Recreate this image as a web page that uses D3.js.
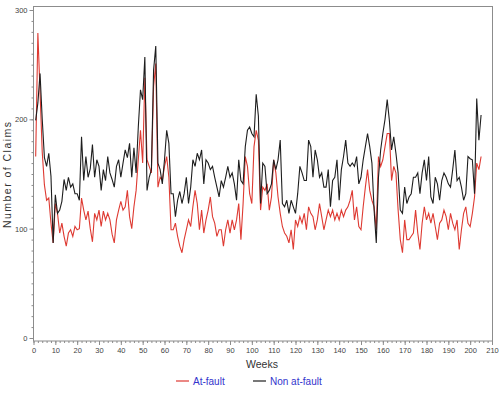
<!DOCTYPE html>
<html>
<head>
<meta charset="utf-8">
<script src="https://cdn.jsdelivr.net/npm/d3@7"></script>
<style>
  body { margin: 0; background: #fff; }
  svg text { font-family: "Liberation Sans", Arial, sans-serif; }
</style>
</head>
<body>
<div id="chart"></div>
<script>
"use strict";

// weekly claim counts, week 1 .. 205
const atFault = [
  166, 279, 225, 170, 140, 126, 128, 105, 87,
  123, 114, 96, 105, 93, 84, 96, 99, 93, 102, 99, 100, 128, 117, 108, 116, 100, 88, 114, 108, 117,
  102, 116, 108, 114, 108, 95, 87, 108, 117, 125, 117, 120, 135, 111, 100, 120, 135, 163, 190, 160,
  238, 163, 157, 151, 230, 251, 138, 147, 144, 157, 166, 147, 99, 99, 105, 93, 84, 78, 90, 99,
  108, 102, 120, 135, 123, 99, 117, 96, 108, 117, 129, 111, 105, 93, 99, 99, 84, 99, 108, 96,
  108, 99, 108, 123, 90, 123, 166, 157, 132, 123, 175, 190, 181, 117, 138, 135, 141, 117, 129, 163,
  151, 129, 114, 102, 96, 93, 87, 99, 81, 108, 102, 111, 105, 114, 99, 120, 114, 111, 99, 108,
  123, 111, 99, 108, 117, 111, 117, 108, 114, 108, 117, 111, 117, 120, 126, 135, 108, 120, 102, 99,
  120, 138, 154, 135, 126, 120, 99, 166, 157, 163, 175, 187, 187, 144, 157, 151, 117, 90, 78, 108,
  90, 90, 93, 96, 117, 96, 81, 105, 120, 108, 114, 105, 114, 102, 90, 105, 108, 117, 111, 99,
  114, 105, 99, 108, 81, 99, 114, 120, 105, 102, 114, 129, 160, 154, 166
];
const nonAtFault = [
  199, 215, 242, 200, 165, 157, 169, 148, 87,
  131, 114, 117, 125, 145, 135, 147, 138, 141, 132, 132, 126, 184, 144, 166, 147, 155, 177, 147, 163, 157,
  135, 154, 144, 166, 151, 145, 138, 157, 163, 147, 160, 172, 165, 178, 147, 174, 151, 193, 227, 218,
  257, 135, 147, 154, 245, 267, 160, 154, 141, 163, 190, 178, 132, 132, 111, 126, 134, 123, 132, 147,
  123, 138, 163, 157, 169, 163, 172, 141, 163, 160, 154, 157, 147, 138, 129, 144, 138, 147, 157, 147,
  151, 141, 126, 163, 144, 141, 175, 190, 193, 187, 184, 223, 203, 123, 160, 157, 132, 135, 141, 163,
  154, 163, 181, 123, 120, 126, 114, 126, 120, 114, 132, 157, 151, 144, 144, 181, 175, 147, 172, 163,
  147, 151, 138, 138, 154, 120, 144, 147, 163, 126, 154, 166, 181, 160, 157, 160, 157, 166, 141, 147,
  163, 175, 187, 175, 160, 117, 87, 147, 172, 187, 200, 218, 199, 172, 184, 169, 151, 117, 114, 138,
  123, 129, 132, 147, 147, 151, 132, 151, 163, 144, 166, 129, 123, 147, 141, 126, 144, 151, 147, 141,
  138, 154, 172, 144, 147, 138, 126, 132, 166, 164, 163, 132, 219, 181, 204
];
const weeks = atFault.map((_, i) => i + 1);

const xTicks = d3.range(0, 211, 10);
const yTicks = [0, 100, 200, 300];

const seriesNames = ["At-fault", "Non at-fault"];
const seriesColors = ["#de3a32", "#1e1e1e"];

const width = 499, height = 393;

const x = d3.scaleLinear().domain([0, 210]).range([33.5, 492]);
const y = d3.scaleLinear().domain([0, 300]).range([338, 10]);

const svg = d3.select("#chart").append("svg")
  .attr("width", width)
  .attr("height", height);

// frame
svg.append("rect")
  .attr("x", 33.5).attr("y", 6.5)
  .attr("width", 459).attr("height", 334.5)
  .attr("fill", "none")
  .attr("stroke", "#8c8c8c")
  .attr("stroke-width", 1);

// y axis
const yAxis = svg.append("g")
  .attr("transform", "translate(33.5,0)")
  .call(d3.axisLeft(y).tickValues(yTicks).tickSize(4).tickPadding(2));
yAxis.append("g")
  .call(d3.axisLeft(y).tickValues(d3.range(0, 301, 10)).tickSize(2).tickFormat(""));

// x axis
const xAxis = svg.append("g")
  .attr("transform", "translate(0,341)")
  .call(d3.axisBottom(x).tickValues(xTicks).tickSize(4).tickPadding(3));
xAxis.append("g")
  .call(d3.axisBottom(x).tickValues(d3.range(0, 211, 2)).tickSize(2).tickFormat(""));

svg.selectAll(".domain").remove();
svg.selectAll(".tick line").attr("stroke", "#8c8c8c");
svg.selectAll(".tick text")
  .attr("fill", "#444")
  .style("font-size", "7.5px");

// series
const line = d3.line()
  .x((d, i) => x(weeks[i]))
  .y(d => y(d));

svg.append("path")
  .datum(atFault)
  .attr("fill", "none")
  .attr("stroke", seriesColors[0])
  .attr("stroke-width", 1.1)
  .attr("d", line);

svg.append("path")
  .datum(nonAtFault)
  .attr("fill", "none")
  .attr("stroke", seriesColors[1])
  .attr("stroke-width", 1.1)
  .attr("d", line);

// axis titles
svg.append("text")
  .attr("x", 262).attr("y", 368)
  .attr("text-anchor", "middle")
  .attr("fill", "#333")
  .style("font-size", "10.5px")
  .text("Weeks");

svg.append("text")
  .attr("transform", "translate(11,175) rotate(-90)")
  .attr("text-anchor", "middle")
  .attr("fill", "#333")
  .style("font-size", "10.5px")
  .attr("textLength", 106)
  .text("Number of Claims");

// legend
const legendX = [176, 253];
const legend = svg.selectAll(".legend")
  .data(seriesNames)
  .join("g")
    .attr("class", "legend")
    .attr("transform", (d, i) => `translate(${legendX[i]},381)`);

legend.append("line")
  .attr("x1", 0).attr("x2", 13)
  .attr("stroke", (d, i) => seriesColors[i])
  .attr("stroke-width", 1.2);

legend.append("text")
  .attr("x", 17).attr("y", 3.5)
  .attr("fill", "#3333cc")
  .style("font-size", "10px")
  .text(d => d);
</script>
</body>
</html>
